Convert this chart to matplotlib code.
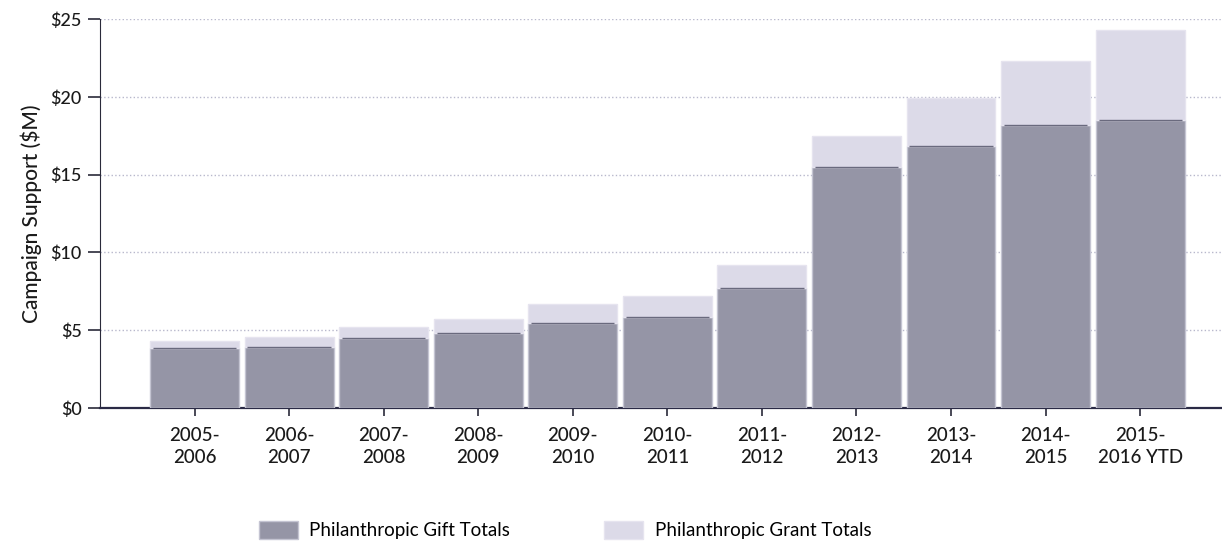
import numpy as np
import matplotlib
matplotlib.use('Agg')
import matplotlib.pyplot as plt

plt.rcParams['font.family'] = ['Lato', 'DejaVu Sans']

years = ['2005-\n2006', '2006-\n2007', '2007-\n2008', '2008-\n2009', '2009-\n2010', '2010-\n2011',
         '2011-\n2012', '2012-\n2013', '2013-\n2014', '2014-\n2015', '2015-\n2016 YTD']
gift = [3.83, 3.94, 4.52, 4.80, 5.44, 5.82, 7.69, 15.50, 16.87, 18.22, 18.50]
total = [4.32, 4.58, 5.22, 5.72, 6.68, 7.19, 9.18, 17.47, 19.95, 22.29, 24.32]
grant = [t - g for t, g in zip(total, gift)]

gift_col = '#9595a6'
grant_col = '#dcdae8'

fig = plt.figure(figsize=(12.22, 5.45), dpi=100)
ax = fig.add_axes([0.0818, 0.2514, 0.917, 0.7136])

x = np.arange(len(years))
ax.bar(x, gift, width=0.94, color=gift_col, edgecolor='#c4c4d2', linewidth=1.0,
       label='Philanthropic Gift Totals', zorder=3)
ax.bar(x, grant, bottom=gift, width=0.94, color=grant_col, edgecolor='#e6e4ef', linewidth=1.0,
       label='Philanthropic Grant Totals', zorder=3)
# darker line on top of the gift part
ax.hlines(gift, x - 0.44, x + 0.44, colors='#6a6a7e', linewidth=1.0, zorder=4)

ax.set_xlim(-1.0, 10.85)
ax.set_ylim(0, 25)
ax.set_yticks([0, 5, 10, 15, 20, 25])
ax.set_yticklabels(['$0', '$5', '$10', '$15', '$20', '$25'])
ax.set_xticks(x)
ax.set_xticklabels(years, linespacing=1.35, fontweight='medium')
for lab in ax.get_yticklabels():
    lab.set_fontweight('medium')
ax.yaxis.grid(True, linestyle=':', color='#b8b8cc', linewidth=1.0, zorder=0)

for s in ['top', 'right']:
    ax.spines[s].set_visible(False)
ax.spines['left'].set_color('#2a2a3a')
ax.spines['bottom'].set_color('#2a2a45')
ax.spines['bottom'].set_linewidth(1.6)
ax.tick_params(axis='y', length=9, width=1.2, color='#2a2a3a', labelsize=13, pad=4, labelcolor='#1a1a1a')
ax.tick_params(axis='x', length=6, width=1.2, color='#2a2a3a', labelsize=13.5, pad=8, labelcolor='#1a1a1a')

ax.set_ylabel('Campaign Support ($M)', fontsize=15, color='#1a1a1a', labelpad=6, fontweight='medium')

fig.legend(loc='center', bbox_to_anchor=(565 / 1222, 1 - 530 / 545), ncol=2, frameon=False,
           fontsize=13.5, handlelength=2.1, handleheight=1.1, columnspacing=5.0, handletextpad=0.6)

fig.savefig('out.png', dpi=100)
